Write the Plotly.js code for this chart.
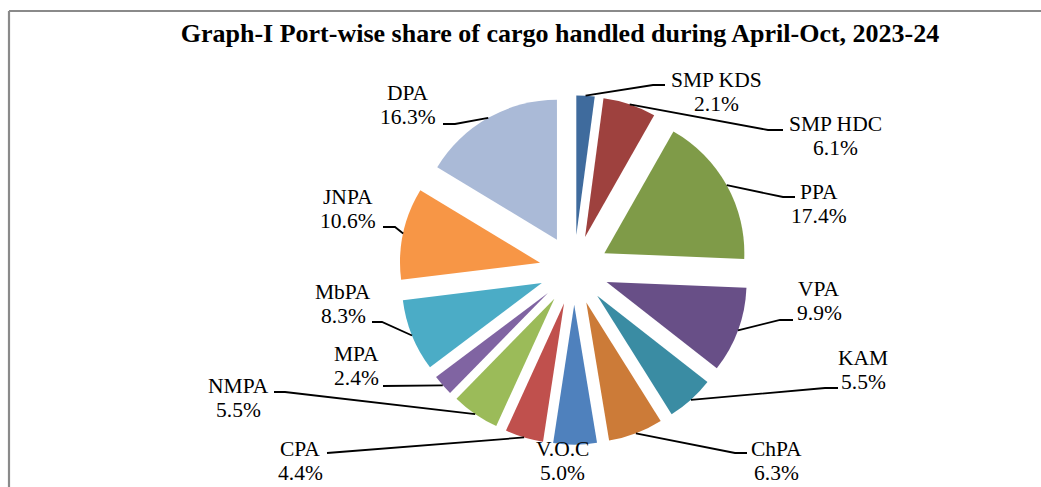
<!DOCTYPE html>
<html>
<head>
<meta charset="utf-8">
<script src="https://cdn.plot.ly/plotly-3.0.1.min.js"></script>
<style>html,body{margin:0;padding:0;background:#fff;}#chart{width:1041px;height:487px;}</style>
</head>
<body>
<div id="chart"></div>
<script>
// ---- data ----
const ports = ["SMP KDS", "SMP HDC", "PPA", "VPA", "KAM", "ChPA", "V.O.C", "CPA", "NMPA", "MPA", "MbPA", "JNPA", "DPA"];
const shares = [2.1, 6.1, 17.4, 9.9, 5.5, 6.3, 5.0, 4.4, 5.5, 2.4, 8.3, 10.6, 16.3];
const shareLabels = ["2.1%", "6.1%", "17.4%", "9.9%", "5.5%", "6.3%", "5.0%", "4.4%", "5.5%", "2.4%", "8.3%", "10.6%", "16.3%"];

// ---- styles / layout ----
const colors = ["#3F6B9D", "#9E413E", "#7F9B48", "#684F87", "#3A8CA3", "#CC7B38", "#4F81BD", "#C0504D", "#9BBB59", "#8064A2", "#4BACC6", "#F79646", "#AABAD7"];
const W = 1041, H = 487;
const centerPx = [574, 270];
const halfPx = 174.7;      // half size of pie box (px)
const pull = 0.248;
const lineGap = 12;        // half distance between the two label lines (px)
// label block centres (px) and leader-line bend / end points (px); null = no line
const labelPos = [[716, 92], [835, 136], [819, 204], [819, 301], [863, 370], [776, 461], [562, 461], [300, 461], [238, 398], [356, 366], [343, 304], [348, 209], [408, 105]];
const leaderPts = [
  [[653, 85], [665, 85]],
  [[768, 130], [783, 130]],
  [[783, 197], [795, 197]],
  [[780, 320], [793, 320]],
  [[825, 388], [838, 388]],
  [[735, 453], [747, 453]],
  null,
  [[327, 453]],
  [[285, 392], [274, 392]],
  [[383, 386]],
  [[382, 322], [372, 322]],
  [[395, 227], [383, 227]],
  [[455, 124], [443, 124]]
];

const px2x = p => p / W;
const px2y = p => 1 - p / H;
const domain = {
  x: [px2x(centerPx[0] - halfPx), px2x(centerPx[0] + halfPx)],
  y: [px2y(centerPx[1] + halfPx), px2y(centerPx[1] - halfPx)]
};
const r = halfPx / (1 + pull);
const d = r * pull;
const total = shares.reduce((a, b) => a + b, 0);

const serif = "'Liberation Serif', 'Times New Roman', Times, serif";
const labelFont = {family: serif, size: 21.5, color: "#000"};
const annotations = [];
const shapes = [];
let cum = 0;
shares.forEach((v, i) => {
  const mid = (cum + v / 2) / total * 2 * Math.PI;
  cum += v;
  const ax = centerPx[0] + (r + d) * Math.sin(mid);
  const ay = centerPx[1] - (r + d) * Math.cos(mid);
  [ports[i], shareLabels[i]].forEach((t, k) => {
    annotations.push({
      x: px2x(labelPos[i][0]), y: px2y(labelPos[i][1] + (k ? lineGap : -lineGap)), xref: "paper", yref: "paper",
      text: t, showarrow: false, xanchor: "center", yanchor: "middle", font: labelFont, borderpad: 0
    });
  });
  if (leaderPts[i]) {
    const pts = [[ax, ay]].concat(leaderPts[i]);
    const path = pts.map((p, k) => (k ? "L" : "M") + px2x(p[0]).toFixed(5) + "," + px2y(p[1]).toFixed(5)).join(" ");
    shapes.push({type: "path", xref: "paper", yref: "paper", path: path, line: {color: "#000", width: 1.8}});
  }
});
// chart area border (top and left edges visible)
shapes.push({type: "line", xref: "paper", yref: "paper", x0: px2x(9), x1: 1.01, y0: px2y(11), y1: px2y(11), line: {color: "#8a8a8a", width: 2.2}});
shapes.push({type: "line", xref: "paper", yref: "paper", x0: px2x(9), x1: px2x(9), y0: px2y(11), y1: -0.01, line: {color: "#8a8a8a", width: 2.2}});

const trace = {
  type: "pie",
  labels: ports,
  values: shares,
  sort: false,
  direction: "clockwise",
  rotation: 0,
  pull: pull,
  textinfo: "none",
  hoverinfo: "label+percent",
  marker: {colors: colors, line: {width: 0}},
  domain: domain,
  showlegend: false
};

const layout = {
  width: W, height: H,
  margin: {l: 0, r: 0, t: 0, b: 0},
  paper_bgcolor: "#fff",
  title: {
    text: "<b>Graph-I Port-wise share of cargo handled during April-Oct, 2023-24</b>",
    font: {family: serif, size: 26, color: "#000"},
    x: px2x(560), xanchor: "center", y: px2y(33), yanchor: "middle", xref: "paper", yref: "paper"
  },
  annotations: annotations,
  shapes: shapes,
  showlegend: false
};

Plotly.newPlot("chart", [trace], layout, {displayModeBar: false, staticPlot: true});
</script>
</body>
</html>
